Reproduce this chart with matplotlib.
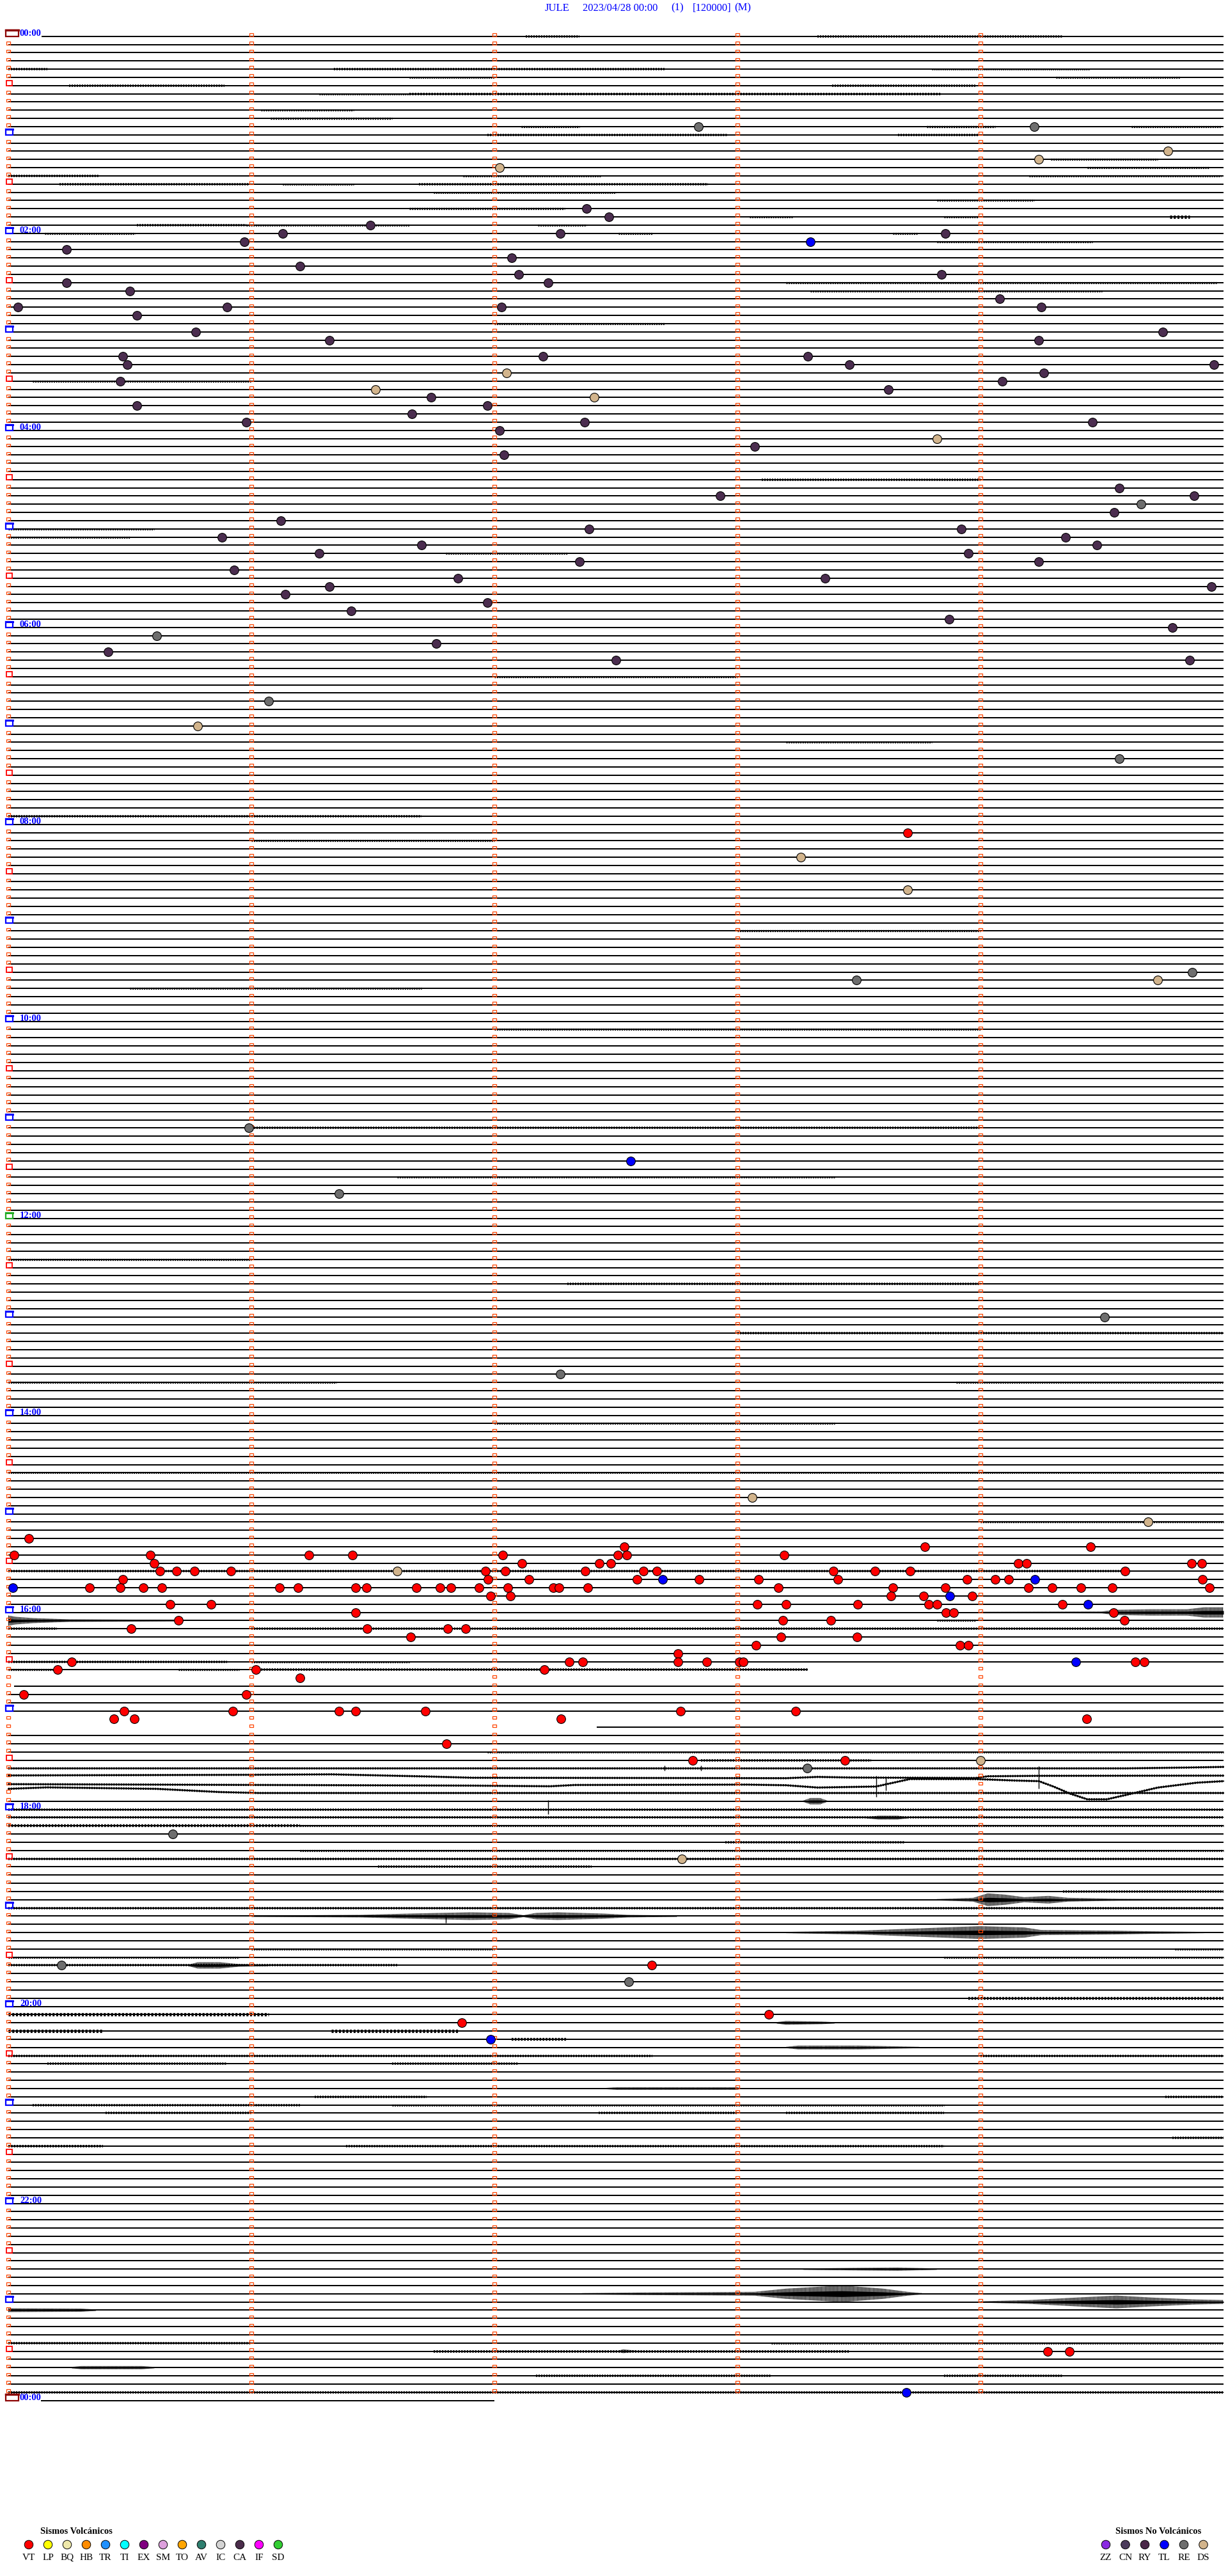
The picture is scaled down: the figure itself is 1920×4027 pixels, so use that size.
import numpy as np
import matplotlib
matplotlib.use('Agg')
import matplotlib.pyplot as plt
from matplotlib.patches import Rectangle
from matplotlib.collections import PatchCollection, LineCollection

# ---------------- data ----------------
station = "JULE"
date_txt = "2023/04/28 00:00"
chan_txt = "(1)"
scale_txt = "[120000]"
mode_txt = "(M)"

N_LINES = 288            # 5-minute traces (24 h)
missing_lines = [200, 205]
partial_line = [199, 201, 206]
partial_start = [0.0, 0.024, 2.42]
partial_end = [3.29, 5.0, 5.0]

# events: line index (5-min trace) and minute within the trace
ry_line = [21, 22, 23, 24, 24, 24, 25, 26, 27, 28, 29, 29, 30, 30, 31, 32, 33, 33, 33, 33, 34, 36, 36,
           37, 37, 39, 39, 39, 40, 40, 40, 41, 42, 42, 43, 44, 45, 45, 46, 47, 47, 47, 48, 50, 51,
           55, 56, 56, 58, 59, 60, 60, 61, 61, 62, 62, 63, 63, 64, 64, 65, 66, 66, 67, 67, 68, 69,
           70, 71, 72, 74, 75, 76, 76]
ry_min = [2.38, 2.47, 1.49, 1.13, 2.27, 3.855, 0.97, 0.24, 2.07, 1.20, 2.10, 3.84, 0.24, 2.22, 0.50,
          4.08, 0.04, 0.90, 2.03, 4.25, 0.53, 0.77, 4.75, 1.32, 4.24, 0.47, 2.20, 3.29, 0.49, 3.46,
          4.96, 4.26, 0.46, 4.09, 3.62, 1.74, 0.53, 1.97, 1.66, 0.98, 2.37, 4.46, 2.02, 3.07, 2.04,
          4.57, 2.93, 4.88, 4.55, 1.12, 2.39, 3.92, 0.88, 4.35, 1.70, 4.48, 1.28, 3.95, 2.35, 4.24,
          0.93, 1.85, 3.36, 1.32, 4.95, 1.14, 1.97, 1.41, 3.87, 4.79, 1.76, 0.41, 2.50, 4.86]

re_line = [11, 11, 57, 73, 81, 88, 114, 115, 133, 141, 156, 163, 211, 219, 235, 237]
re_min = [2.84, 4.22, 4.66, 0.61, 1.07, 4.57, 4.87, 3.49, 0.99, 1.36, 4.51, 2.27, 3.288, 0.675, 0.218, 2.553]

ds_line = [14, 15, 16, 41, 43, 44, 49, 84, 100, 104, 115, 178, 181, 187, 210, 222]
ds_min = [4.77, 4.24, 2.02, 2.05, 1.51, 2.41, 3.82, 0.78, 3.26, 3.70, 4.73, 3.06, 4.69, 1.60, 4.0, 2.77]

tl_line = [25, 137, 188, 188, 189, 190, 191, 198, 244, 287]
tl_min = [3.30, 2.56, 2.692, 4.223, 0.019, 3.874, 4.442, 4.391, 1.984, 3.694]

vt_line = [97, 183,
           184, 184, 184,
           185, 185, 185, 185, 185, 185, 185, 185,
           186, 186, 186, 186, 186, 186, 186, 186,
           187, 187, 187, 187, 187, 187, 187, 187, 187, 187, 187, 187, 187,
           188, 188, 188, 188, 188, 188, 188, 188, 188, 188, 188,
           189, 189, 189, 189, 189, 189, 189, 189, 189, 189, 189, 189,
           189, 189, 189, 189, 189, 189, 189, 189, 189, 189, 189, 189,
           190, 190, 190, 190, 190,
           191, 191, 191, 191, 191, 191, 191, 191,
           192, 192, 192, 192,
           193, 193, 193, 193,
           194, 194, 194, 194,
           195, 195, 195,
           196, 196, 196,
           197,
           198, 198, 198, 198, 198, 198, 198, 198, 198,
           199, 199, 199,
           200,
           202, 202,
           204, 204, 204, 204, 204, 204, 204,
           205, 205, 205, 205,
           208,
           210, 210,
           235, 241, 242, 282, 282]
vt_min = [3.70, 0.084,
          2.534, 3.772, 4.453,
          0.025, 0.585, 1.236, 1.417, 2.035, 2.507, 2.544, 3.192,
          0.600, 2.112, 2.431, 2.479, 4.155, 4.189, 4.868, 4.911,
          0.624, 0.693, 0.766, 0.917, 1.962, 2.046, 2.375, 2.614, 2.669, 3.395, 3.566, 3.710, 4.594,
          0.472, 1.975, 2.142, 2.586, 2.842, 3.086, 3.413, 3.946, 4.061, 4.117, 4.914,
          0.334, 0.461, 0.554, 0.632, 1.116, 1.191, 1.428, 1.474, 1.679, 1.776, 1.822, 1.938,
          2.055, 2.243, 2.265, 2.383, 3.168, 3.640, 3.855, 4.197, 4.295, 4.413, 4.542, 4.941,
          1.984, 2.066, 3.632, 3.766, 3.965,
          0.665, 0.835, 3.081, 3.201, 3.496, 3.788, 3.821, 4.336,
          1.428, 3.858, 3.890, 4.547,
          0.700, 3.186, 3.384, 4.592,
          0.505, 1.477, 1.809, 1.882,
          1.656, 3.178, 3.491,
          3.077, 3.915, 3.950,
          2.754,
          0.261, 2.307, 2.364, 2.754, 2.875, 3.009, 3.023, 4.636, 4.674,
          0.203, 1.018, 2.205,
          1.199,
          0.062, 0.980,
          0.476, 0.925, 1.360, 1.428, 1.717, 2.767, 3.239,
          0.434, 0.518, 2.274, 4.438,
          1.803,
          2.815, 3.442,
          2.648, 3.13, 1.867, 4.277, 4.367]

# long-period drift of traces (minute, offset in px)
drift_211_m = [0, 4.6, 4.85, 5.0]
drift_211_px = [0, 0, -1.3, -2.3]
drift_212_m = [0, 1.0, 1.33, 1.72, 1.91, 3.2, 3.33, 3.47, 3.98, 4.03, 4.24, 5.0]
drift_212_px = [-1.8, -2.8, -3.5, -0.2, 1.8, 2.5, 0.5, 1.5, 2.2, -0.5, -1.2, -1.5]
drift_213_m = [0, 1.91, 2.23, 2.33, 3.04, 3.20, 3.33, 3.57, 3.71, 3.98, 4.14, 4.24, 4.30,
               4.37, 4.44, 4.52, 4.62, 4.73, 4.89, 5.0]
drift_213_px = [-1, 1.3, 2.3, 0.3, -0.3, 0.7, 4.3, 2.7, -9, -9, -6.7, -5.7, 2.7,
                14, 22.7, 22.7, 14, 4.3, -3.3, -5.7]
drift_214_m = [0, 0.16, 0.61, 0.87, 1.03, 5.0]
drift_214_px = [-6.5, -8.8, -6.5, -1.5, 0, 0]

# low level noise segments: line, start min, end min, half amplitude px
noise_line = [0, 0, 4, 4, 4, 5, 5, 6, 6, 7, 7, 9, 10, 11, 11, 11, 12, 12, 15, 16, 17, 17, 17,
              18, 18, 18, 19, 20, 21, 22, 22, 22, 23, 23, 23, 24, 24, 24, 25,
              30, 31, 35, 42, 54, 60, 61, 63, 78, 86, 95, 98, 109, 116, 121, 133, 139, 149,
              152, 158, 164, 164, 169, 175, 181,
              187, 193, 194, 194, 198, 198, 199, 199, 199, 209, 210, 210, 211,
              216, 217, 218, 218, 220, 221, 222, 223, 226, 228, 233, 233, 234, 234, 235, 239,
              241, 243, 243, 244, 246, 246, 247, 247, 251, 251, 252, 252, 253, 253, 253, 256,
              257, 257, 281, 281, 282, 285, 285, 287]
noise_m0 = [2.13, 3.33, 0.0, 1.34, 3.80, 1.65, 4.31, 0.25, 3.39, 1.28, 1.65, 1.04, 1.08, 2.11, 3.78,
            4.62, 1.97, 3.66, 4.29, 4.44, 0.0, 1.87, 4.20, 0.21, 1.13, 1.69, 1.75, 3.82, 1.65,
            3.05, 3.85, 4.78, 0.53, 0.98, 2.18, 0.15, 2.51, 3.64, 3.82,
            3.2, 3.3, 2.0, 0.1, 3.1, 0.0, 0.0, 1.8, 2.0, 3.2, 0.0, 1.0, 3.0, 0.5, 2.0, 1.0, 1.6,
            0.0, 2.3, 3.0, 0.0, 3.9, 2.0, 0.0, 4.0,
            0.0, 3.82, 0.0, 1.0, 0.0, 1.0, 0.0, 0.7, 1.03, 1.97, 2.85, 3.33, 1.99,
            0.0, 0.0, 0.0, 1.2, 2.95, 1.2, 0.0, 1.52, 4.34, 0.0, 1.0, 4.8, 0.0, 3.85, 0.0, 3.95,
            0.0, 0.0, 1.33, 2.07, 0.0, 4.0, 0.16, 1.58, 1.26, 4.76, 0.1, 1.58, 0.4, 2.43, 3.2,
            4.79, 0.0, 1.39, 0.0, 3.14, 1.75, 2.17, 3.85, 0.0]
noise_m1 = [2.35, 4.34, 0.16, 2.70, 4.45, 2.00, 4.82, 0.89, 3.98, 1.65, 3.84, 1.42, 1.58, 2.35, 4.06,
            4.99, 2.96, 3.99, 4.73, 4.94, 0.37, 2.44, 4.99, 0.99, 1.42, 2.88, 2.50, 4.22, 2.29,
            3.23, 3.99, 4.86, 0.98, 1.65, 2.38, 0.52, 2.65, 3.74, 4.46,
            4.97, 4.5, 2.7, 1.0, 4.0, 0.6, 0.5, 2.3, 3.0, 3.8, 1.7, 2.0, 4.0, 1.7, 4.0, 4.0, 3.4,
            1.0, 4.0, 5.0, 1.35, 5.0, 3.4, 5.0, 5.0,
            4.6, 3.98, 0.2, 5.0, 0.9, 1.65, 0.2, 0.95, 3.29, 5.0, 3.33, 3.55, 5.0,
            5.0, 5.0, 1.2, 5.0, 3.69, 5.0, 5.0, 2.40, 5.0, 5.0, 2.0, 5.0, 0.95, 5.0, 1.6, 5.0,
            1.07, 0.39, 1.85, 2.30, 2.65, 5.0, 0.9, 2.1, 1.72, 5.0, 1.2, 3.85, 1.0, 3.0, 3.85,
            5.0, 0.39, 3.85, 1.0, 5.0, 3.46, 3.14, 4.34, 5.0]
noise_amp = [1.0, 1.0, 1.0, 1.0, 0.6, 0.7, 0.8, 1.0, 1.0, 0.7, 1.2, 0.8, 0.9, 0.8, 0.9, 0.8, 1.0, 1.0,
             0.8, 0.8, 1.0, 0.8, 0.8, 1.0, 0.7, 1.0, 0.7, 0.8, 0.9, 0.8, 0.8, 2.0, 1.0, 0.8, 0.8,
             0.8, 0.8, 0.8, 0.8,
             0.8, 0.8, 0.8, 0.8, 1.0, 0.8, 0.8, 0.8, 0.8, 0.8, 1.0, 0.8, 0.8, 0.8, 0.8, 1.0, 0.8,
             0.8, 1.0, 1.0, 0.8, 0.8, 0.8, 0.7, 0.8,
             1.0, 0.8, 1.0, 1.0, 1.0, 0.8, 0.8, 0.8, 1.1, 0.7, 1.1, 1.0, 1.0,
             1.0, 1.0, 1.5, 0.8, 1.0, 0.8, 1.0, 1.0, 1.0, 1.0, 0.8, 0.8, 0.8, 0.8, 1.0, 1.5,
             2.0, 2.0, 2.0, 1.5, 1.0, 1.0, 1.0, 1.0, 1.0, 1.0, 1.0, 0.8, 1.0, 1.0, 1.0, 1.0,
             1.2, 1.0, 1.0, 0.8, 1.2, 1.0, 1.0, 1.0]

# signal bursts: line -> envelope knots (minute, half amplitude px)
burst_line = [192, 193, 215, 217, 227, 229, 231, 235, 242, 245, 250, 272, 275, 276, 277, 284, 282]
burst_m = [[4.0, 4.5, 4.55, 4.7, 4.85, 4.92, 5.0],
           [0.0, 0.03, 0.1, 0.25, 0.5, 0.72],
           [3.27, 3.30, 3.34, 3.37],
           [3.53, 3.58, 3.66, 3.70],
           [3.82, 3.97, 4.03, 4.10, 4.18, 4.28, 4.36, 4.57, 5.0],
           [1.0, 1.45, 1.65, 1.9, 2.06, 2.12, 2.17, 2.26, 2.45, 2.55, 2.75],
           [3.2, 3.5, 3.85, 4.0, 4.18, 4.25, 4.55, 4.7, 4.92],
           [0.74, 0.78, 0.87, 0.95, 1.07],
           [3.16, 3.2, 3.35, 3.40],
           [3.20, 3.25, 3.5, 3.75],
           [2.46, 2.5, 3.0, 3.01],
           [3.27, 3.5, 3.66, 3.82],
           [2.36, 2.6, 3.07, 3.2, 3.43, 3.6, 3.7, 3.76],
           [4.0, 4.2, 4.4, 4.56, 4.7, 4.88, 5.0],
           [0.0, 0.3, 0.36],
           [0.26, 0.3, 0.55, 0.6],
           [2.51, 2.53, 2.58]]
burst_amp = [[1, 1.5, 4, 5, 5, 8, 8],
             [8, 6, 4, 2, 1.5, 1],
             [1, 5, 5, 1],
             [1, 3, 3, 1],
             [1, 3, 10, 8, 4, 6, 3, 1.5, 1],
             [1, 2, 4, 6, 5, 1.5, 5, 6, 4, 2, 1],
             [1, 3, 8, 10, 8, 4, 3, 2, 1],
             [1, 5, 5, 2, 1],
             [1, 3, 2, 1],
             [1, 3, 3, 1],
             [1, 2, 2, 1],
             [1, 2, 2.5, 1],
             [1, 2, 3, 8, 13, 8, 3, 1],
             [1, 3, 7, 10, 7, 4, 3],
             [3, 2.5, 1],
             [1, 2.5, 2.5, 1],
             [1, 3, 1]]

# isolated spikes: line, minute, top px, bottom px (relative to nominal baseline)
spike_line = [213, 213, 213, 216, 211, 211, 229]
spike_min = [3.57, 3.61, 4.24, 2.22, 2.70, 2.85, 1.80]
spike_top = [-14, -12, -29, -15, -4, -4, -2]
spike_bot = [19, 9, 6, 7, 4, 4, 11]

# legend categories
volc_codes = ["VT", "LP", "BQ", "HB", "TR", "TI", "EX", "SM", "TO", "AV", "IC", "CA", "IF", "SD"]
volc_colors = ["#FF0000", "#FFFF00", "#EEE8AA", "#FF8C00", "#1E90FF", "#00FFFF", "#800080",
               "#DDA0DD", "#FFA500", "#2F7F6F", "#D3D3D3", "#4B2D4B", "#FF00FF", "#32CD32"]
novolc_codes = ["ZZ", "CN", "RY", "TL", "RE", "DS"]
novolc_colors = ["#8A2BE2", "#4B3B5B", "#4A2848", "#0000FF", "#6E6E6E", "#D2B48C"]

# ---------------- layout ----------------
W, H = 1920, 4027
PX_MIN = 380.0
PX_LINE = 12.833
X0, Y0 = 13.0, 56.7

def mx(px):
    return (px - X0) / PX_MIN

def ly(py):
    return (py - Y0) / PX_LINE

def dmx(p):
    return p / PX_MIN

def dpx(p):
    return p / PX_LINE

SERIF = ["Liberation Serif", "DejaVu Serif"]
BLUE = "#0000FF"
LW = 1.45
plt.rcParams['hatch.linewidth'] = 0.9

fig = plt.figure(figsize=(W / 100, H / 100), dpi=100)
ax = fig.add_axes([0, 0, 1, 1])
ax.set_xlim(mx(0), mx(W))
ax.set_ylim(ly(H), ly(0))
ax.axis('off')

# baselines
drift = {211: (drift_211_m, drift_211_px), 212: (drift_212_m, drift_212_px),
         213: (drift_213_m, drift_213_px), 214: (drift_214_m, drift_214_px)}
segs = []
for i in range(N_LINES):
    if i in missing_lines or i in drift:
        continue
    s, e = 0.0, 5.0
    if i == 0:
        s = mx(65)
    if i in partial_line:
        k = partial_line.index(i)
        s, e = partial_start[k], partial_end[k]
    segs.append([(s, i), (e, i)])
segs.append([(mx(64), N_LINES), (2.0, N_LINES)])
ax.add_collection(LineCollection(segs, colors='black', linewidths=LW, zorder=2))
for i, (dm, dp) in drift.items():
    ax.plot(dm, [i + dpx(v) for v in dp], color='black', lw=LW, zorder=2)
    ax.plot(dm, [i + dpx(v) for v in dp], color='black', lw=2.5, dashes=(0.6, 0.5), zorder=2)

# noise segments (stippled thicker trace)
for i, a, b, amp in zip(noise_line, noise_m0, noise_m1, noise_amp):
    if i in drift:
        continue
    lw_pt = (2.0 + 1.6 * amp) * 0.72
    ax.plot([a, b], [i, i], color='black', lw=lw_pt, dashes=(0.6, 0.5),
            solid_capstyle='butt', dash_capstyle='butt', zorder=2)

# bursts
for i, ms, amps in zip(burst_line, burst_m, burst_amp):
    ms = np.array(ms)
    amps = np.array(amps, dtype=float)
    ax.fill_between(ms, i - dpx(amps), i + dpx(amps), facecolor='none', edgecolor='black',
                    hatch='||||||||', lw=0.0, zorder=2)
    ax.fill_between(ms, i - dpx(amps * 0.35), i + dpx(amps * 0.35), color='black', lw=0, zorder=2)

ax.vlines(spike_min, [l + dpx(t) for l, t in zip(spike_line, spike_top)],
          [l + dpx(b) for l, b in zip(spike_line, spike_bot)], colors='black', lw=1.0, zorder=2)

# minute squares
small = []
for i in range(N_LINES):
    for k in range(5):
        if k == 0 and i % 6 == 0:
            continue
        small.append(Rectangle((k - dmx(2.6), i - dpx(4.6)), dmx(5.2), dpx(4.6)))
ax.add_collection(PatchCollection(small, facecolor='none', edgecolor='#FF4500',
                                  linewidth=0.9, zorder=3))

for i in range(0, N_LINES + 1, 6):
    if i % 12 == 6:
        r = Rectangle((dmx(-3.2), i - dpx(8)), dmx(9), dpx(8), facecolor='none',
                      edgecolor='#FF0000', lw=1.3, zorder=3)
    elif i == 0 or i == N_LINES:
        r = Rectangle((dmx(-4), i - dpx(10)), dmx(20), dpx(10), facecolor='none',
                      edgecolor='#8B0000', lw=1.6, zorder=3)
        ax.plot([dmx(-4), dmx(16)], [i - dpx(10), i - dpx(10)], color='#8B0000', lw=2.4, zorder=3)
    else:
        col = '#22AA22' if i == 144 else BLUE
        r = Rectangle((dmx(-3.6), i - dpx(8.5)), dmx(11), dpx(8.5), facecolor='none',
                      edgecolor=col, lw=1.6, zorder=3)
        ax.plot([dmx(-3.6), dmx(7.4)], [i - dpx(8.5), i - dpx(8.5)], color=col, lw=2.2, zorder=3)
    ax.add_patch(r)
    if i % 24 == 0:
        ax.text(mx(31), i - dpx(1.0), "%02d:00" % ((i // 12) % 24), ha='left', va='baseline',
                fontsize=10.5, fontweight='bold', color=BLUE, family=SERIF, zorder=6)

# events
ev_groups = [(ry_line, ry_min, "#4B2D4F"), (re_line, re_min, "#6E6E6E"),
             (ds_line, ds_min, "#D2B48C"), (tl_line, tl_min, "#0000FF"),
             (vt_line, vt_min, "#FF0000")]
for lines, mins, col in ev_groups:
    ax.scatter(mins, lines, s=98, c=col, edgecolors='black', linewidths=0.8, zorder=5)

# title
ty = ly(12.5)
for txt, xp in [(station, 852), (date_txt, 911), (chan_txt, 1049), (scale_txt, 1083), (mode_txt, 1148)]:
    ax.text(mx(xp), ty, txt, ha='left', va='center', fontsize=12, color=BLUE, family=SERIF)

# legends
ax.text(mx(63), ly(3957), "Sismos Volcánicos", ha='left', va='center', fontsize=10.5,
        fontweight='bold', family=SERIF, color='black')
vx = [mx(45 + 30 * k) for k in range(len(volc_codes))]
ax.scatter(vx, [ly(3978)] * len(vx), s=95, c=volc_colors, edgecolors='black', linewidths=0.7, zorder=5)
for x, c in zip(vx, volc_codes):
    ax.text(x, ly(3998), c, ha='center', va='center', fontsize=11, family=SERIF, color='black')

ax.text(mx(1811), ly(3957), "Sismos No Volcánicos", ha='center', va='center', fontsize=10.5,
        fontweight='bold', family=SERIF, color='black')
nx = [mx(1729 + 30.5 * k) for k in range(len(novolc_codes))]
ax.scatter(nx, [ly(3978)] * len(nx), s=95, c=novolc_colors, edgecolors='black', linewidths=0.7, zorder=5)
for x, c in zip(nx, novolc_codes):
    ax.text(x, ly(3998), c, ha='center', va='center', fontsize=11, family=SERIF, color='black')

fig.savefig("out.png", dpi=100, facecolor='white')
